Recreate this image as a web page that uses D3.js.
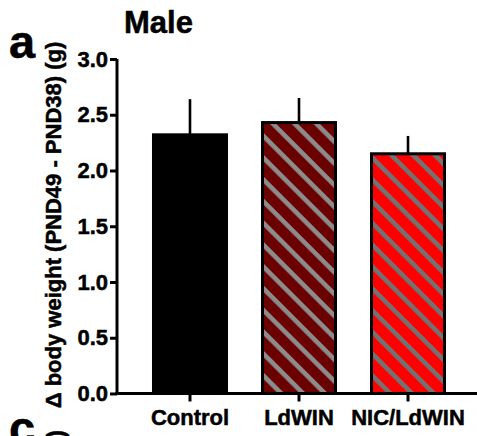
<!DOCTYPE html>
<html>
<head>
<meta charset="utf-8">
<script src="https://cdn.jsdelivr.net/npm/d3@7"></script>
<style>
  html, body { margin: 0; padding: 0; background: #fff; }
  svg { display: block; font-family: "Liberation Sans", Arial, Helvetica, sans-serif; font-weight: bold; }
  .heavy { stroke: #000; stroke-width: 0.5px; paint-order: stroke; }
</style>
</head>
<body>
<svg id="chart" width="477" height="436"></svg>
<script>
// Weight gain between PND38 and PND49, male groups
const groups = ["Control", "LdWIN", "NIC/LdWIN"];
const means = [2.32, 2.43, 2.15];
const sems = [0.32, 0.22, 0.16];
const yTicks = [0.0, 0.5, 1.0, 1.5, 2.0, 2.5, 3.0];

const fills = ["#000000", "url(#hatch-ldwin)", "url(#hatch-nic)"];

const svg = d3.select("#chart");

const x0 = 117, y0 = 393.5;
const x = d3.scaleBand()
  .domain(groups)
  .range([x0, 481])
  .paddingInner(0.3028)
  .paddingOuter(0.321);

const y = d3.scaleLinear()
  .domain([0, 3])
  .range([y0, 59]);

// Diagonal hatch fills, stripes running top-left to bottom-right
const defs = svg.append("defs");
function hatch(id, bg, stripe) {
  const p = defs.append("pattern")
    .attr("id", id)
    .attr("patternUnits", "userSpaceOnUse")
    .attr("width", 15.4)
    .attr("height", 15.4)
    .attr("patternTransform", "rotate(45)");
  p.append("rect").attr("width", 15.4).attr("height", 15.4).attr("fill", bg);
  p.append("rect").attr("x", 0).attr("y", 0).attr("width", 15.4).attr("height", 4.6).attr("fill", stripe);
}
hatch("hatch-ldwin", "#6a0000", "#8c8c8c");
hatch("hatch-nic", "#ff0000", "#727272");

// Error bars (upper only)
svg.append("g")
  .selectAll("line")
  .data(groups)
  .join("line")
  .attr("x1", d => x(d) + x.bandwidth() / 2)
  .attr("x2", d => x(d) + x.bandwidth() / 2)
  .attr("y1", (d, i) => y(means[i]))
  .attr("y2", (d, i) => y(means[i] + sems[i]))
  .attr("stroke", "#000")
  .attr("stroke-width", 2.6);

// Bars
svg.append("g")
  .selectAll("rect")
  .data(groups)
  .join("rect")
  .attr("x", d => x(d) + 1.5)
  .attr("width", x.bandwidth() - 3)
  .attr("y", (d, i) => y(means[i]))
  .attr("height", (d, i) => y(0) - y(means[i]))
  .attr("fill", (d, i) => fills[i])
  .attr("stroke", "#000")
  .attr("stroke-width", 3);

// Y axis
const yAxis = svg.append("g")
  .attr("transform", `translate(${x0},0)`)
  .call(d3.axisLeft(y).tickValues(yTicks).tickFormat(d3.format(".1f"))
    .tickSize(7).tickSizeOuter(0).tickPadding(2));
yAxis.select(".domain").attr("stroke-width", 3).attr("d", `M0,${y(3)}V${y0 + 1.5}`);
yAxis.selectAll(".tick line").attr("stroke-width", 3);
yAxis.selectAll(".tick text")
  .attr("class", "heavy")
  .attr("font-size", 22)
  .attr("font-family", "'Liberation Sans', Arial, sans-serif")
  .attr("font-weight", "bold")
  .attr("fill", "#000");

// X axis
const xAxis = svg.append("g")
  .attr("transform", `translate(0,${y0})`)
  .call(d3.axisBottom(x).tickSize(8).tickSizeOuter(0).tickPadding(8));
xAxis.select(".domain").attr("stroke-width", 3).attr("d", `M${x0 - 1.5},0H481`);
xAxis.selectAll(".tick line").attr("stroke-width", 3);
xAxis.selectAll(".tick text")
  .attr("class", "heavy")
  .attr("font-size", 22)
  .attr("font-family", "'Liberation Sans', Arial, sans-serif")
  .attr("font-weight", "bold")
  .attr("fill", "#000");

// Y axis title
svg.append("text")
  .attr("class", "heavy")
  .attr("transform", "translate(61,225) rotate(-90)")
  .attr("text-anchor", "middle")
  .attr("font-size", 22)
  .text("Δ body weight (PND49 - PND38) (g)");

// Title and panel letters
svg.append("text").attr("class", "heavy").attr("x", 124).attr("y", 33).attr("font-size", 31).text("Male");
svg.append("text").attr("class", "heavy").attr("x", 9).attr("y", 58).attr("font-size", 47).text("a");
svg.append("text").attr("class", "heavy").attr("x", 9).attr("y", 444).attr("font-size", 47).text("c");
svg.append("text")
  .attr("class", "heavy")
  .attr("transform", "translate(64,430) rotate(-90)")
  .attr("text-anchor", "end")
  .attr("font-size", 24)
  .text("(g)");
</script>
</body>
</html>
